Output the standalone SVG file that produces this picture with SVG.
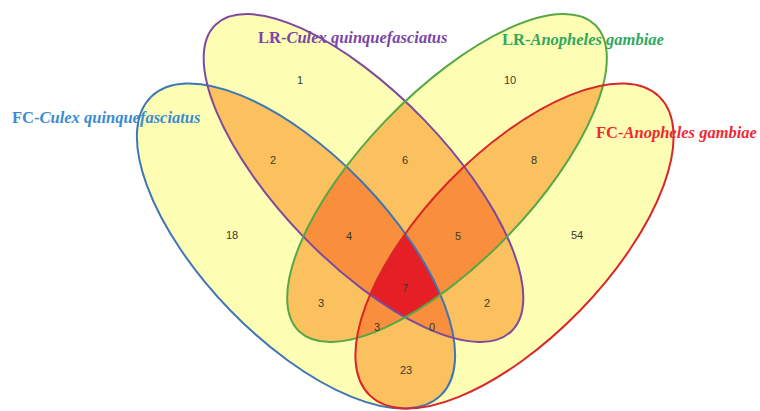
<svg xmlns="http://www.w3.org/2000/svg" xmlns:xlink="http://www.w3.org/1999/xlink" width="760" height="411" viewBox="0 0 760 411">
<style>
.f1{fill:#FEFDB4;stroke:none}
.f2{fill:#FBC15E;stroke:none}
.f3{fill:#F98E3C;stroke:none}
.f4{fill:#E61F26;stroke:none}
.ol{fill:none;stroke-width:2}
.lab{font-family:"Liberation Serif","Times New Roman",serif;font-size:16.5px;font-weight:bold}
.it{font-style:italic}
.num{font-family:"Liberation Sans",Arial,sans-serif;font-size:11px;fill:#3a3a2a;text-anchor:middle}
</style>
<defs>
<ellipse id="eB" cx="0" cy="0" rx="208" ry="92" transform="translate(296,246) rotate(45.9)"/>
<ellipse id="eR" cx="0" cy="0" rx="208" ry="92" transform="translate(514.5,246) rotate(-45.9)"/>
<ellipse id="eP" cx="0" cy="0" rx="213" ry="84" transform="translate(363.5,178) rotate(46)"/>
<ellipse id="eG" cx="0" cy="0" rx="213" ry="84" transform="translate(447,178) rotate(-46)"/>
<clipPath id="cB"><use xlink:href="#eB"/></clipPath>
<clipPath id="cR"><use xlink:href="#eR"/></clipPath>
<clipPath id="cP"><use xlink:href="#eP"/></clipPath>
<clipPath id="cG"><use xlink:href="#eG"/></clipPath>
</defs>
<rect width="760" height="411" fill="#ffffff"/>
<g id="regions">
<use xlink:href="#eB" class="f1"/>
<use xlink:href="#eR" class="f1"/>
<use xlink:href="#eP" class="f1"/>
<use xlink:href="#eG" class="f1"/>
<g clip-path="url(#cB)"><use xlink:href="#eP" class="f2"/><use xlink:href="#eG" class="f2"/><use xlink:href="#eR" class="f2"/></g>
<g clip-path="url(#cP)"><use xlink:href="#eG" class="f2"/><use xlink:href="#eR" class="f2"/></g>
<g clip-path="url(#cG)"><use xlink:href="#eR" class="f2"/></g>
<g clip-path="url(#cB)"><g clip-path="url(#cP)"><use xlink:href="#eG" class="f3"/><use xlink:href="#eR" class="f3"/></g></g>
<g clip-path="url(#cB)"><g clip-path="url(#cG)"><use xlink:href="#eR" class="f3"/></g></g>
<g clip-path="url(#cP)"><g clip-path="url(#cG)"><use xlink:href="#eR" class="f3"/></g></g>
<g clip-path="url(#cB)"><g clip-path="url(#cP)"><g clip-path="url(#cG)"><use xlink:href="#eR" class="f4"/></g></g></g>
</g>
<g id="set-fc-culex">
<use xlink:href="#eB" class="ol" stroke="#3F76B4"/>
<text class="lab" x="12" y="123" fill="#3A8CD0">FC-<tspan class="it">Culex quinquefasciatus</tspan></text>
</g>
<g id="set-lr-culex">
<use xlink:href="#eP" class="ol" stroke="#7E4B9C"/>
<text class="lab" x="258" y="43" fill="#7B45A6">LR-<tspan class="it">Culex quinquefasciatus</tspan></text>
</g>
<g id="set-lr-anopheles">
<use xlink:href="#eG" class="ol" stroke="#55A845"/>
<text class="lab" x="502" y="45" fill="#2FA85E">LR-<tspan class="it">Anopheles gambiae</tspan></text>
</g>
<g id="set-fc-anopheles">
<use xlink:href="#eR" class="ol" stroke="#D8262C"/>
<text class="lab" x="596" y="138" fill="#EE2A33">FC-<tspan class="it">Anopheles gambiae</tspan></text>
</g>
<g id="counts">
<text class="num" x="300" y="84">1</text>
<text class="num" x="510" y="84">10</text>
<text class="num" x="273" y="164">2</text>
<text class="num" x="405" y="164">6</text>
<text class="num" x="534" y="164">8</text>
<text class="num" x="232" y="239">18</text>
<text class="num" x="349" y="240">4</text>
<text class="num" x="458" y="240">5</text>
<text class="num" x="577" y="239">54</text>
<text class="num" x="321" y="307">3</text>
<text class="num" x="405" y="292">7</text>
<text class="num" x="487" y="307">2</text>
<text class="num" x="377" y="331">3</text>
<text class="num" x="432" y="331">0</text>
<text class="num" x="406" y="374">23</text>
</g>
</svg>
